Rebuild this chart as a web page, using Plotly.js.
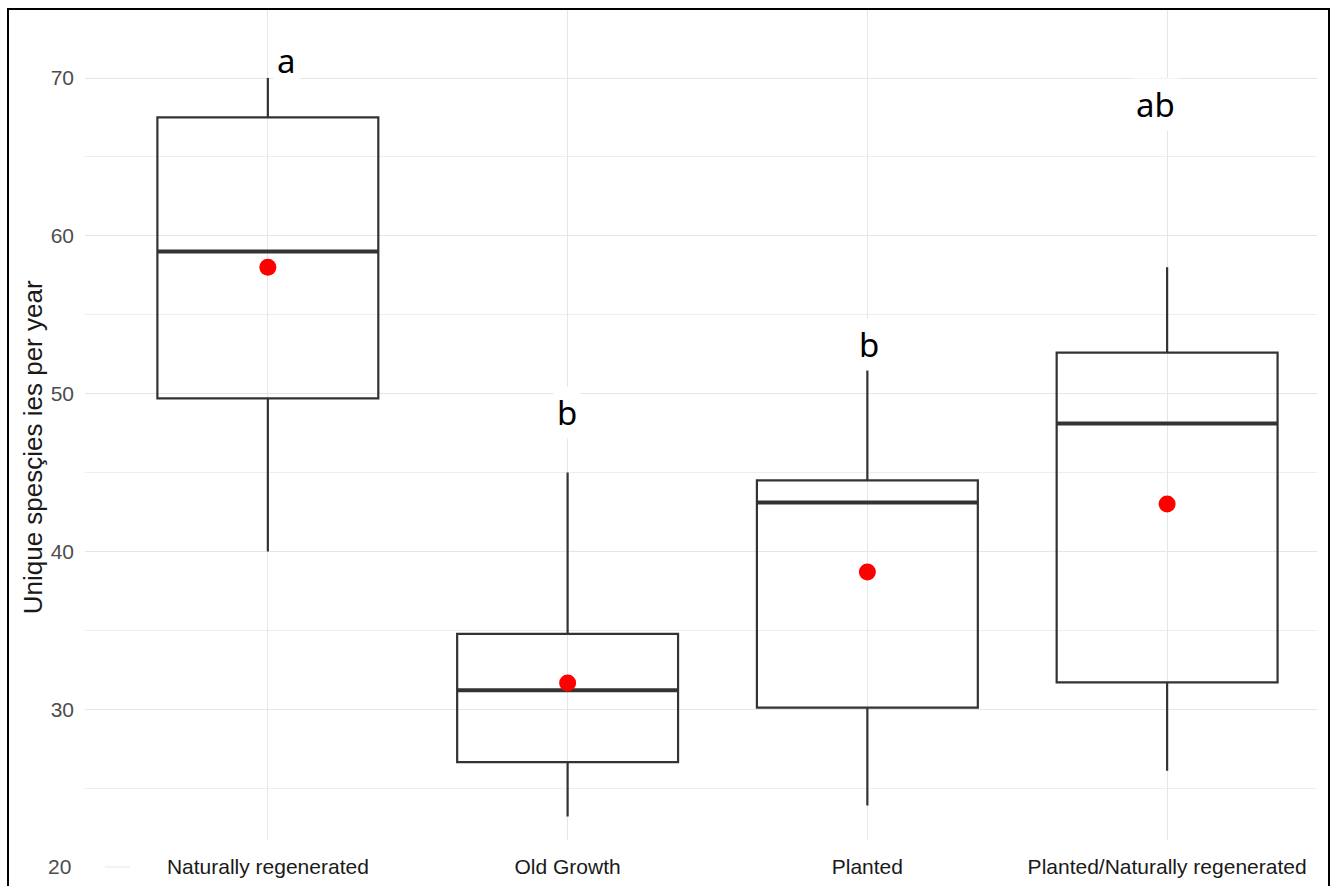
<!DOCTYPE html>
<html>
<head>
<meta charset="utf-8">
<script src="https://cdn.plot.ly/plotly-3.0.1.min.js"></script>
<style>
  html, body { margin: 0; padding: 0; background: #ffffff; overflow: hidden; }
  #chart { position: absolute; left: 0; top: 0; width: 1330px; height: 886px; }
  #frame { position: absolute; left: 7px; top: 8px; width: 1323px; height: 900px;
           box-sizing: border-box; border: 2px solid #000; pointer-events: none; }
</style>
</head>
<body>
<div id="chart"></div>
<div id="frame"></div>
<script>
// ---- data ----
const categories = ["Naturally regenerated", "Old Growth", "Planted", "Planted/Naturally regenerated"];
const q1Values = [49.7, 26.65, 30.1, 31.7];
const medianValues = [59.0, 31.2, 43.1, 48.1];
const q3Values = [67.5, 34.77, 44.5, 52.6];
const lowerWhisker = [40.0, 23.2, 23.9, 26.1];
const upperWhisker = [70.0, 45.0, 51.8, 58.0];
const meanValues = [58.0, 31.66, 38.7, 43.0];
const groupLetters = ["a", "b", "b", "ab"];
const letterLevels = [71.1, 48.8, 53.1, 68.35];
const yTickValues = [30, 40, 50, 60, 70];
const yTitle = "Unique spesçies ies per year";

// ---- styling ----
const letterShift = [19, -1, 2, -12];
const boxLine = "#333333";
const gridCol = "#e6e6e6";

const traces = [
  {
    type: "box",
    x: categories,
    q1: q1Values,
    median: medianValues,
    q3: q3Values,
    lowerfence: lowerWhisker,
    upperfence: upperWhisker,
    width: 0.737,
    whiskerwidth: 0,
    boxpoints: false,
    fillcolor: "rgba(0,0,0,0)",
    line: { color: boxLine, width: 2.2 },
    hoverinfo: "skip",
    showlegend: false
  },
  {
    type: "scatter",
    mode: "markers",
    x: categories,
    y: medianValues,
    marker: { symbol: "line-ew", size: 158, color: boxLine, line: { color: "#333333", width: 4 } },
    hoverinfo: "skip",
    showlegend: false
  },
  {
    type: "scatter",
    mode: "markers",
    x: categories,
    y: meanValues,
    marker: { symbol: "circle", size: 17, color: "#ff0000", line: { width: 0 } },
    hoverinfo: "skip",
    showlegend: false
  }
];

const annotations = groupLetters.map((t, i) => ({
  x: categories[i], y: letterLevels[i], xref: "x", yref: "y",
  text: t, showarrow: false, xshift: letterShift[i],
  font: { family: "Noto Sans, Open Sans, sans-serif", size: 33, color: "#000000" },
  bgcolor: "#ffffff", borderpad: 3
}));
annotations.push({
  x: 0, y: -0.0325, xref: "paper", yref: "paper", xanchor: "right", yanchor: "middle",
  xshift: -12, text: "20", showarrow: false,
  font: { family: "Liberation Sans, Arial, sans-serif", size: 21, color: "#4d4d4d" }
});
annotations.push({
  x: -0.042, y: 0.4735, xref: "paper", yref: "paper", textangle: -90,
  text: yTitle, showarrow: false, xanchor: "center", yanchor: "middle",
  font: { family: "Liberation Sans, Arial, sans-serif", size: 26, color: "#1a1a1a" }
});

const layout = {
  width: 1330, height: 886,
  margin: { l: 85, r: 13, t: 10, b: 46 },
  paper_bgcolor: "#ffffff",
  plot_bgcolor: "#ffffff",
  showlegend: false,
  xaxis: {
    type: "category",
    categoryorder: "array", categoryarray: categories,
    range: [-0.61, 3.5],
    showgrid: true, gridcolor: gridCol, gridwidth: 1,
    zeroline: false, showline: false, ticks: "",
    ticklabelstandoff: 12,
    tickfont: { family: "Liberation Sans, Arial, sans-serif", size: 21, color: "#1a1a1a" }
  },
  yaxis: {
    range: [21.71, 74.31],
    tickvals: yTickValues,
    showgrid: true, gridcolor: gridCol, gridwidth: 1,
    minor: { dtick: 5, tick0: 25, showgrid: true, gridcolor: "#eeeeee", gridwidth: 1 },
    zeroline: false, showline: false, ticks: "",
    ticklabelstandoff: 10,
    tickfont: { family: "Liberation Sans, Arial, sans-serif", size: 21, color: "#4d4d4d" }
  },
  shapes: [{
    type: "line", xref: "paper", yref: "paper",
    x0: 0.0162, x1: 0.0365, y0: -0.0325, y1: -0.0325,
    line: { color: gridCol, width: 1 }, layer: "below"
  }],
  annotations: annotations
};

Plotly.newPlot("chart", traces, layout, { staticPlot: true, displayModeBar: false });
</script>
</body>
</html>
